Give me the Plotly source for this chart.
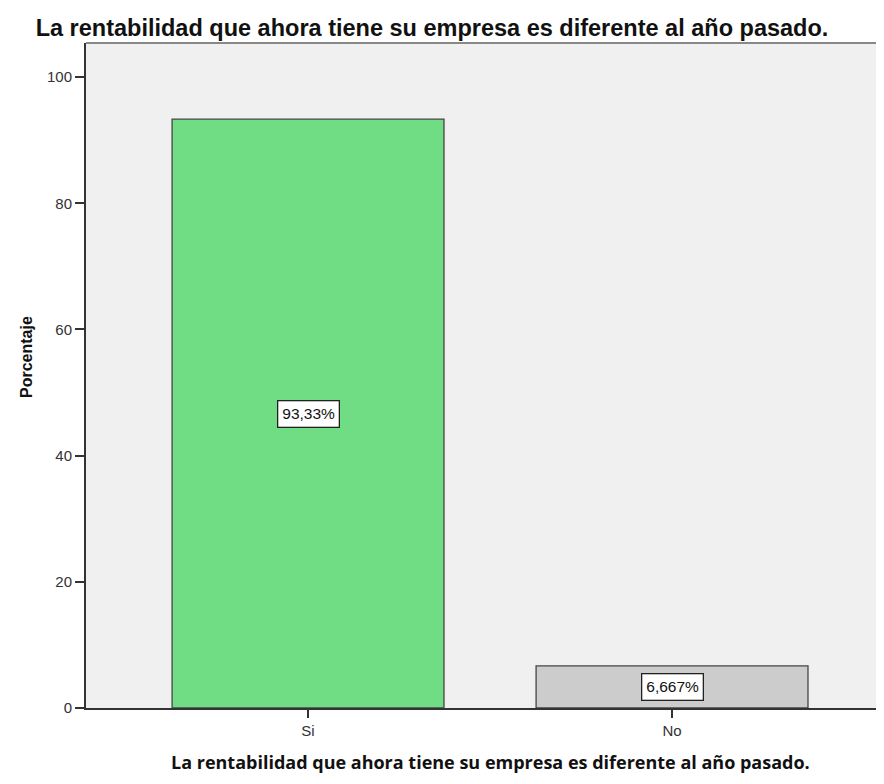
import plotly.graph_objects as go

categories = ["Si", "No"]
percentages = [93.33, 6.667]
labels = ["93,33%", "6,667%"]
colors = ["#70DC84", "#CCCCCC"]
y_ticks = [0, 20, 40, 60, 80, 100]
title_text = "La rentabilidad que ahora tiene su empresa es diferente al año pasado."

fig = go.Figure()
fig.add_trace(go.Bar(
    x=categories, y=percentages, width=0.747,
    marker=dict(color=colors, line=dict(color="#444444", width=1.3)),
    hoverinfo="skip", showlegend=False,
))

for c, v, lab in zip(categories, percentages, labels):
    fig.add_annotation(
        x=c, y=v / 2, text=lab, showarrow=False,
        font=dict(family="Liberation Sans, Arial", size=15.5, color="#111111"),
        bgcolor="#FFFFFF", bordercolor="#222222", borderwidth=1.3, borderpad=4,
    )

fig.add_shape(type="line", xref="paper", yref="paper", x0=0, x1=1, y0=1, y1=1,
              line=dict(color="#888888", width=2))

fig.add_annotation(
    xref="paper", yref="paper", x=(491 - 86) / 790, y=-54 / 665, yanchor="middle",
    text="<b>" + title_text + "</b>", showarrow=False,
    font=dict(family="Open Sans, Noto Sans", size=18, color="#111111"),
)
fig.add_annotation(
    xref="paper", yref="paper", x=-60 / 790, y=(708 - 357) / 665, xanchor="center",
    yanchor="middle", textangle=-90,
    text="<b>Porcentaje</b>", showarrow=False,
    font=dict(family="Liberation Sans, Arial", size=16, color="#111111"),
)

fig.update_layout(
    width=868, height=768,
    margin=dict(l=78, r=0, t=35, b=68),
    paper_bgcolor="#FFFFFF", plot_bgcolor="#F0F0F0",
    title=dict(
        text="<b>" + title_text + "</b>",
        x=424 / 868, xanchor="center", y=1 - 20 / 768, yanchor="middle",
        font=dict(family="Liberation Sans Narrow, Arial Narrow, Liberation Sans", size=23.5, color="#111111"),
    ),
    xaxis=dict(
        range=[-0.61, -0.61 + 790 / 364], showgrid=False, zeroline=False,
        showline=True, linecolor="#333333", linewidth=1.5,
        ticks="outside", ticklen=8, tickcolor="#333333", tickwidth=1.5,
        tickfont=dict(family="Liberation Sans, Arial", size=15, color="#333333"),
    ),
    yaxis=dict(
        range=[0, 105.4], showgrid=False, zeroline=False,
        showline=True, linecolor="#333333", linewidth=2,
        tickvals=y_ticks,
        ticks="outside", ticklen=9, tickcolor="#333333", tickwidth=1.5,
        tickfont=dict(family="Liberation Sans, Arial", size=15, color="#333333"),
    ),
)

fig.write_html("out.html")
